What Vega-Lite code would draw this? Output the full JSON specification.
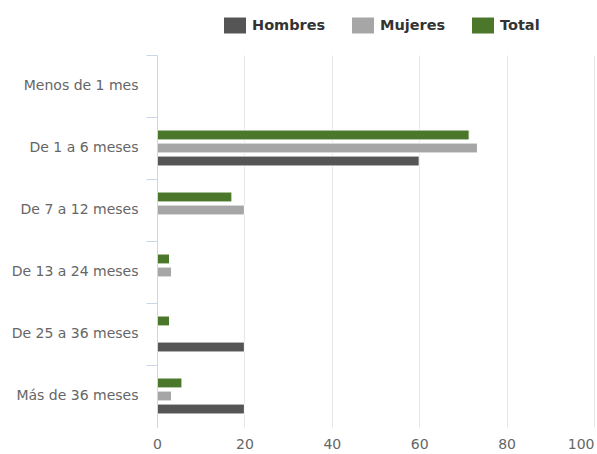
{
  "$schema": "https://vega.github.io/schema/vega-lite/v6.json",
  "width": 437,
  "height": 372,
  "autosize": {"type": "none"},
  "padding": {"left": 157, "top": 55, "right": 3, "bottom": 27},
  "background": "white",
  "config": {"view": {"stroke": null}},
  "data": {
    "values": [
      {"cat": "Menos de 1 mes", "serie": "Hombres", "value": 0},
      {"cat": "Menos de 1 mes", "serie": "Mujeres", "value": 0},
      {"cat": "Menos de 1 mes", "serie": "Total", "value": 0},
      {"cat": "De 1 a 6 meses", "serie": "Hombres", "value": 60},
      {"cat": "De 1 a 6 meses", "serie": "Mujeres", "value": 73.33},
      {"cat": "De 1 a 6 meses", "serie": "Total", "value": 71.43},
      {"cat": "De 7 a 12 meses", "serie": "Hombres", "value": 0},
      {"cat": "De 7 a 12 meses", "serie": "Mujeres", "value": 20},
      {"cat": "De 7 a 12 meses", "serie": "Total", "value": 17.14},
      {"cat": "De 13 a 24 meses", "serie": "Hombres", "value": 0},
      {"cat": "De 13 a 24 meses", "serie": "Mujeres", "value": 3.33},
      {"cat": "De 13 a 24 meses", "serie": "Total", "value": 2.86},
      {"cat": "De 25 a 36 meses", "serie": "Hombres", "value": 20},
      {"cat": "De 25 a 36 meses", "serie": "Mujeres", "value": 0},
      {"cat": "De 25 a 36 meses", "serie": "Total", "value": 2.86},
      {"cat": "Más de 36 meses", "serie": "Hombres", "value": 20},
      {"cat": "Más de 36 meses", "serie": "Mujeres", "value": 3.33},
      {"cat": "Más de 36 meses", "serie": "Total", "value": 5.71}
    ]
  },
  "mark": {"type": "bar", "stroke": "white", "strokeWidth": 1},
  "encoding": {
    "y": {
      "field": "cat",
      "type": "nominal",
      "sort": ["Menos de 1 mes", "De 1 a 6 meses", "De 7 a 12 meses", "De 13 a 24 meses", "De 25 a 36 meses", "Más de 36 meses"],
      "scale": {"paddingInner": 0, "paddingOuter": 0},
      "axis": {
        "title": null,
        "bandPosition": 0,
        "tickSize": 11,
        "labelPadding": 8,
        "domainColor": "#ccd6eb",
        "tickColor": "#ccd6eb",
        "labelColor": "#666666",
        "labelFontSize": 14,
        "labelFont": "DejaVu Sans",
        "grid": false,
        "zindex": 1
      }
    },
    "x": {
      "field": "value",
      "type": "quantitative",
      "scale": {"domain": [0, 100], "nice": false},
      "axis": {
        "title": null,
        "values": [0, 20, 40, 60, 80, 100],
        "grid": true,
        "gridColor": "#e6e6e6",
        "domain": false,
        "ticks": false,
        "labelPadding": 10,
        "labelColor": "#666666",
        "labelFontSize": 14,
        "labelFont": "DejaVu Sans",
        "labelAlign": {"condition": {"test": "datum.value == 100", "value": "right"}, "value": "center"}
      }
    },
    "yOffset": {
      "field": "serie",
      "type": "nominal",
      "sort": ["Total", "Mujeres", "Hombres"],
      "scale": {"paddingInner": 0.24, "paddingOuter": 1.1}
    },
    "color": {
      "field": "serie",
      "type": "nominal",
      "scale": {"domain": ["Hombres", "Mujeres", "Total"], "range": ["#555555", "#a6a6a6", "#4a7729"]},
      "legend": {
        "orient": "none",
        "legendX": 67,
        "legendY": -40.5,
        "direction": "horizontal",
        "title": null,
        "symbolType": "M-1,-0.727H1V0.727H-1Z",
        "symbolSize": 484,
        "symbolStrokeWidth": 0,
        "labelFont": "DejaVu Sans",
        "labelFontWeight": "bold",
        "labelFontSize": 14.5,
        "labelColor": "#333333",
        "columnPadding": 26,
        "labelOffset": 6
      }
    }
  }
}
